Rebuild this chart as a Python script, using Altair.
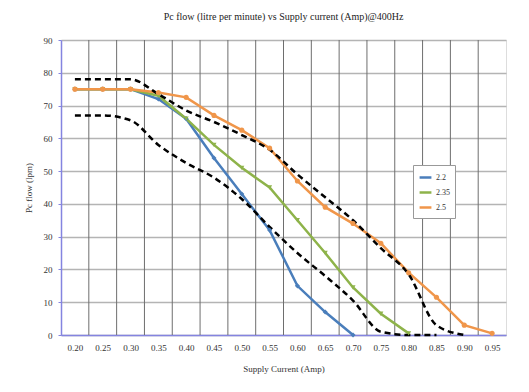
import altair as alt
import pandas as pd

currents = [0.20, 0.25, 0.30, 0.35, 0.40, 0.45, 0.50, 0.55, 0.60, 0.65, 0.70, 0.75, 0.80, 0.85, 0.90, 0.95]
series_names = ["2.2", "2.35", "2.5"]
flow_22 = [75, 75, 75, 72, 66, 54, 43, 32, 15, 7, 0, None, None, None, None, None]
flow_235 = [75, 75, 75, 73, 66, 58, 51, 45, 35, 25, 14.5, 6.5, 0.5, None, None, None]
flow_25 = [75, 75, 75, 74, 72.5, 67, 62.5, 57, 47, 39, 34, 28, 19, 11.5, 3, 0.5]
upper_limit = [78, 78, 78, 73.5, 68.5, 65, 61, 56.5, 49, 42, 35, 26.5, 18.5, 3, 0, None]
lower_limit = [67, 67, 65.5, 58, 52.5, 48, 41.5, 33, 25, 18, 10.5, 1, 0, 0, None, None]
y_ticks = [0, 10, 20, 30, 40, 50, 60, 70, 80, 90]
colors = ["#4a7ebb", "#8eb34a", "#f0964a"]
shapes = ["diamond", "triangle-down", "circle"]

rows = []
for name, vals in zip(series_names, [flow_22, flow_235, flow_25]):
    for c, v in zip(currents, vals):
        if v is not None:
            rows.append({"current": c, "flow": v, "series": name})
df = pd.DataFrame(rows)

lim_rows = []
for name, vals in [("upper", upper_limit), ("lower", lower_limit)]:
    for c, v in zip(currents, vals):
        if v is not None:
            lim_rows.append({"current": c, "flow": v, "limit": name})
dl = pd.DataFrame(lim_rows)

# category boundaries (Excel category axis gridlines fall between categories)
dg = pd.DataFrame({"current": [round(c + 0.025, 3) for c in currents[:-1]]})

FONT = "Liberation Serif"
xdom = [0.175, 0.975]

xscale = alt.Scale(domain=xdom, nice=False, zero=False)
yscale = alt.Scale(domain=[0, 90], nice=False)

base_x = alt.X("current:Q", scale=xscale,
               axis=alt.Axis(values=currents, format=".2f", grid=False, ticks=False,
                             labelFont=FONT, labelFontSize=9, labelColor="#333",
                             labelPadding=8, title="Supply Current (Amp)",
                             titleFont=FONT, titleFontSize=9, titleFontWeight="normal",
                             titleColor="#333", titlePadding=12,
                             domainColor="#8484e0", domainWidth=1.5, labelFlush=False))
base_y = alt.Y("flow:Q", scale=yscale,
               axis=alt.Axis(values=y_ticks, grid=True, gridColor="#b4b4b4", gridWidth=1.5,
                             tickSize=3, tickColor="#8484e0", labelPadding=6,
                             labelFont=FONT, labelFontSize=9, labelColor="#333",
                             title="Pc flow (lpm)", titleFont=FONT, titleFontSize=9,
                             titleFontWeight="normal", titleColor="#333", titlePadding=10,
                             domainColor="#8484e0", domainWidth=1.5))

grid_layer = alt.Chart(dg).mark_rule(color="#6e6e6e", strokeWidth=1).encode(x=base_x)

color_enc = alt.Color("series:N", scale=alt.Scale(domain=series_names, range=colors),
                      legend=alt.Legend(title=None, orient="none", legendX=352, legendY=125,
                                        symbolType="stroke", symbolStrokeWidth=2.5,
                                        symbolSize=140, labelFont=FONT, labelFontSize=8,
                                        labelColor="#333", strokeColor="#999",
                                        fillColor="white", padding=5, rowPadding=2,
                                        labelOffset=3))

lines = alt.Chart(df).mark_line(strokeWidth=2.5).encode(
    x=base_x, y=base_y, color=color_enc)

limits = alt.Chart(dl).mark_line(color="black", strokeWidth=2.5, strokeDash=[6, 4],
                                 interpolate="monotone").encode(
    x=base_x, y=base_y, detail="limit:N")

point_layers = []
for name, col, shp in zip(series_names, colors, shapes):
    point_layers.append(
        alt.Chart(df).transform_filter(alt.datum.series == name)
        .mark_point(filled=True, size=26, opacity=1, shape=shp, color=col)
        .encode(x=base_x, y=base_y)
    )

chart = alt.layer(grid_layer, lines, limits, *point_layers).properties(
    width=445, height=295,
    title=alt.TitleParams("Pc flow (litre per minute) vs Supply current (Amp)@400Hz",
                          font=FONT, fontSize=10, fontWeight="normal", color="#222", offset=14),
    autosize=alt.AutoSizeParams(type="none"),
    padding={"left": 53, "top": 32, "right": 15, "bottom": 50},
).configure_view(stroke="#6e6e6e", strokeWidth=1).configure(background="white")

chart.save("out.html", embed_options={"renderer": "svg", "actions": False})
